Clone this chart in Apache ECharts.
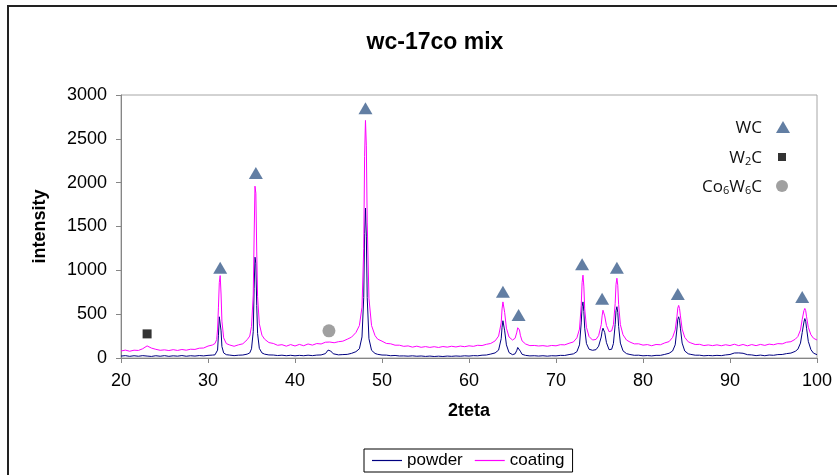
<!DOCTYPE html>
<html>
    <head>
        <meta charset="utf-8">
        <script src="https://cdn.jsdelivr.net/npm/echarts@6.0.0/dist/echarts.min.js"></script>
        <style>
            html, body { margin: 0; padding: 0; background: #fff; }
            #main { width: 837px; height: 475px; }
        </style>
    </head>
    <body>
        <div id="main"></div>
        <script>
            // [2theta, intensity]
            var powder = [
                [20,22],[20.5,27],[21,19],[21.5,26],[22,20],[22.5,27],[23,22],[23.5,18],[24,26],[24.5,20],[25,27],[25.5,19],
                [26,25],[26.5,21],[27,28],[27.5,20],[28,26],[28.5,22],[29,28],[29.5,24],[30,30],[30.5,33],
                [30.8,36],[31.0,48],[31.1,90],[31.2,260],[31.3,470],[31.4,490],[31.5,310],[31.6,130],[31.8,58],[32.1,38],
                [32.5,33],[33,27],[33.5,32],[34,34],[34.5,44],
                [34.8,58],[35.0,105],[35.2,300],[35.3,790],[35.4,1150],[35.5,1080],[35.6,600],[35.7,280],[35.9,110],[36.2,58],
                [36.5,44],[37,35],[37.5,34],[38,28],[38.5,32],[39,26],[39.5,31],[40,25],[40.5,30],[41,26],[41.5,32],[42,27],
                [42.5,33],[43,35],[43.5,50],[43.8,90],[43.9,100],[44.1,80],[44.4,48],[45,36],[45.5,39],[46,41],[46.5,53],
                [47.0,72],[47.4,105],[47.7,240],[47.9,690],[48.0,1420],[48.1,1710],[48.2,1390],[48.3,690],[48.5,220],[48.8,88],[49.2,52],
                [49.5,42],[50,34],[50.5,33],[51,26],[51.5,29],[52,23],[52.5,24],[53,21],[53.5,25],[54,20],[54.5,23],[55,18],
                [55.5,22],[56,17],[56.5,21],[57,17],[57.5,22],[58,19],[58.5,23],[59,20],[59.5,25],[60,22],[60.5,27],[61,25],
                [61.5,32],[62,34],[62.5,45],
                [63.0,58],[63.4,90],[63.7,220],[63.8,350],[63.9,425],[64.0,410],[64.1,310],[64.3,150],[64.6,62],[65.0,38],
                [65.3,48],[65.5,88],[65.6,120],[65.7,130],[65.8,112],[65.9,78],[66.1,42],[66.5,30],
                [67,24],[67.5,26],[68,22],[68.5,26],[69,21],[69.5,26],[70,24],[70.5,30],[71,29],[71.5,39],[72,47],
                [72.4,72],[72.7,150],[72.9,400],[73.0,590],[73.1,640],[73.2,530],[73.3,340],[73.5,165],[73.8,100],[74.2,88],
                [74.6,95],[74.9,135],[75.2,240],[75.3,305],[75.4,340],[75.5,330],[75.6,290],[75.8,175],[76.1,95],[76.4,100],
                [76.6,165],[76.8,380],[76.9,540],[77.0,585],[77.1,520],[77.2,360],[77.4,170],[77.7,82],[78.1,50],
                [78.5,40],[79,31],[79.5,32],[80,25],[80.5,28],[81,24],[81.5,30],[82,30],[82.5,41],[83,54],
                [83.4,80],[83.7,150],[83.9,330],[84.0,440],[84.1,470],[84.2,430],[84.3,340],[84.5,170],[84.8,80],[85.2,48],
                [85.5,41],[86,32],[86.5,32],[87,25],[87.5,29],[88,26],[88.5,30],[89,27],[89.5,35],[90,40],[90.5,57],[91,58],
                [91.5,54],[92,38],[92.5,35],[93,27],[93.5,33],[94,26],[94.5,34],[95,31],[95.5,39],[96,40],[96.5,50],[97,56],[97.5,76],
                [97.8,100],[98.1,170],[98.3,290],[98.5,410],[98.6,450],[98.7,420],[98.8,340],[99.0,190],[99.3,95],[99.6,55],[100,38]
            ];

            var coating = [
                [20,80],[20.5,90],[21,77],[21.5,89],[22,86],[22.5,106],[23,138],[23.5,113],[24,99],[24.5,88],[25,93],[25.5,85],
                [26,95],[26.5,86],[27,97],[27.5,89],[28,100],[28.5,98],[29,112],[29.5,114],[30,136],[30.5,148],
                [30.8,165],[31.0,210],[31.1,330],[31.2,580],[31.3,860],[31.4,940],[31.5,730],[31.6,420],[31.8,230],[32.1,165],
                [32.5,148],[33,134],[33.5,150],[34,162],[34.5,208],
                [34.8,250],[35.0,360],[35.2,720],[35.3,1380],[35.4,1960],[35.5,1880],[35.6,1220],[35.7,700],[35.9,390],[36.2,260],
                [36.5,215],[37,176],[37.5,166],[38,145],[38.5,152],[39,135],[39.5,153],[40,137],[40.5,155],[41,140],[41.5,160],
                [42,147],[42.5,165],[43,160],[43.5,180],[44,182],[44.5,174],[45,186],[45.5,192],[46,214],[46.5,238],
                [47.0,290],[47.4,370],[47.7,580],[47.9,1250],[48.0,2300],[48.1,2710],[48.2,2420],[48.3,1550],[48.5,680],[48.8,370],[49.2,255],
                [49.5,215],[50,192],[50.5,166],[51,162],[51.5,146],[52,146],[52.5,133],[53,138],[53.5,124],[54,135],[54.5,122],
                [55,130],[55.5,121],[56,129],[56.5,120],[57,131],[57.5,124],[58,134],[58.5,126],[59,136],[59.5,129],[60,139],
                [60.5,133],[61,145],[61.5,142],[62,156],[62.5,166],
                [63.0,195],[63.4,250],[63.7,400],[63.8,560],[63.9,640],[64.0,625],[64.1,520],[64.3,340],[64.6,240],[65.0,205],
                [65.3,225],[65.5,295],[65.6,345],[65.7,355],[65.8,320],[65.9,260],[66.1,195],[66.5,160],
                [67,141],[67.5,143],[68,137],[68.5,141],[69,134],[69.5,143],[70,139],[70.5,152],[71,150],[71.5,168],[72,183],
                [72.4,230],[72.7,330],[72.9,600],[73.0,860],[73.1,945],[73.2,820],[73.3,560],[73.5,350],[73.8,245],[74.2,205],
                [74.6,212],[74.9,255],[75.2,380],[75.3,480],[75.4,545],[75.5,540],[75.6,480],[75.8,370],[76.1,300],[76.4,310],
                [76.6,380],[76.8,620],[76.9,840],[77.0,910],[77.1,830],[77.2,610],[77.4,380],[77.7,265],[78.1,205],
                [78.5,182],[79,161],[79.5,162],[80,147],[80.5,153],[81,140],[81.5,154],[82,151],[82.5,172],[83,187],
                [83.4,235],[83.7,320],[83.9,470],[84.0,570],[84.1,600],[84.2,565],[84.3,480],[84.5,330],[84.8,235],[85.2,185],
                [85.5,172],[86,154],[86.5,156],[87,142],[87.5,149],[88,141],[88.5,150],[89,140],[89.5,151],[90,142],[90.5,157],
                [91,141],[91.5,154],[92,139],[92.5,153],[93,141],[93.5,155],[94,144],[94.5,158],[95,151],[95.5,164],[96,161],
                [96.5,180],[97,186],[97.5,214],
                [97.8,245],[98.1,320],[98.3,440],[98.5,540],[98.6,565],[98.7,540],[98.8,470],[99.0,350],[99.3,265],[99.6,225],[100,205]
            ];

            // phase markers
            var wcMarks = [[31.4,1030],[35.5,2110],[48.1,2850],[63.9,755],[65.7,490],[73.0,1070],[75.3,675],[77.0,1030],[84.0,730],[98.3,695]];
            var w2cMarks = [[23.0,275]];
            var co6w6cMarks = [[43.9,310]];

            var chart = echarts.init(document.getElementById('main'));

            var font = 'Liberation Sans, Arial, sans-serif';
            var legendFont = 'Open Sans, sans-serif';

            function phaseName(name) {
                // W2C -> W{2}C, Co6W6C -> Co{6}W{6}C with subscripts
                return name.replace(/([A-Za-z]+)/g, '{n|$1}').replace(/(\d)/g, '{s|$1}');
            }
            var phaseRich = {
                n: { fontSize: 17, lineHeight: 20, verticalAlign: 'bottom', fontFamily: legendFont, color: '#111' },
                s: { fontSize: 11, lineHeight: 8, verticalAlign: 'bottom', fontFamily: legendFont, color: '#111' }
            };
            function phaseLegend(name, right, top, w, h, pad) {
                return {
                    data: [name],
                    orient: 'vertical',
                    align: 'right',
                    right: right,
                    top: top,
                    padding: 0,
                    itemWidth: w,
                    itemHeight: h,
                    selectedMode: false,
                    formatter: phaseName,
                    textStyle: { padding: [0, pad, 0, 0], rich: phaseRich }
                };
            }

            chart.setOption({
                backgroundColor: '#fff',
                animation: false,
                title: {
                    text: 'wc-17co mix',
                    left: 430,
                    top: 26,
                    textAlign: 'center',
                    textStyle: { fontSize: 23, fontWeight: 'bold', color: '#000', fontFamily: font }
                },
                graphic: [{
                    type: 'rect',
                    shape: { x: 8, y: 6, width: 1000, height: 1000 },
                    style: { fill: 'none', stroke: '#222', lineWidth: 2 },
                    silent: true
                }],
                grid: {
                    left: 121, right: 20, top: 95, bottom: 117,
                    show: true, borderColor: '#a6a6a6', borderWidth: 1
                },
                legend: [
                    {
                        data: [
                            { name: 'powder', icon: 'rect', itemStyle: { color: '#000080' } },
                            { name: 'coating', icon: 'rect', itemStyle: { color: '#ff00ff' } }
                        ],
                        left: 364,
                        top: 449,
                        padding: [3, 8, 3, 8],
                        borderColor: '#000',
                        borderWidth: 1,
                        itemWidth: 30,
                        itemHeight: 1.2,
                        itemGap: 12,
                        selectedMode: false,
                        textStyle: { fontSize: 17, color: '#000', fontFamily: font }
                    },
                    phaseLegend('WC', 47, 120, 14, 12, 9),
                    phaseLegend('W2C', 51, 150, 8, 8, 11),
                    phaseLegend('Co6W6C', 49, 179, 12, 12, 9)
                ],
                xAxis: {
                    type: 'value',
                    min: 20, max: 100, interval: 10,
                    name: '2teta',
                    nameLocation: 'middle',
                    nameGap: 44,
                    nameTextStyle: { fontSize: 18, fontWeight: 'bold', color: '#000', fontFamily: font },
                    axisLine: { lineStyle: { color: '#868686' } },
                    axisTick: { length: 5, lineStyle: { color: '#868686' } },
                    axisLabel: { fontSize: 18, color: '#000', margin: 14, fontFamily: font },
                    splitLine: { show: false }
                },
                yAxis: {
                    type: 'value',
                    min: 0, max: 3000, interval: 500,
                    name: 'intensity',
                    nameLocation: 'middle',
                    nameGap: 72,
                    nameTextStyle: { fontSize: 18, fontWeight: 'bold', color: '#000', fontFamily: font },
                    axisLine: { show: true, lineStyle: { color: '#868686' } },
                    axisTick: { show: true, length: 5, lineStyle: { color: '#868686' } },
                    axisLabel: {
                        fontSize: 18, color: '#000', margin: 14, fontFamily: font,
                        formatter: function (v) { return String(v); }
                    },
                    splitLine: { show: false }
                },
                series: [
                    {
                        name: 'powder',
                        type: 'line',
                        data: powder,
                        symbol: 'none',
                        color: '#000080',
                        lineStyle: { width: 1, color: '#000080' }
                    },
                    {
                        name: 'coating',
                        type: 'line',
                        data: coating,
                        symbol: 'none',
                        color: '#ff00ff',
                        lineStyle: { width: 1, color: '#ff00ff' }
                    },
                    {
                        name: 'WC',
                        type: 'scatter',
                        data: wcMarks,
                        symbol: 'triangle',
                        symbolSize: [14, 12],
                        itemStyle: { color: '#3b5e8c' }
                    },
                    {
                        name: 'W2C',
                        type: 'scatter',
                        data: w2cMarks,
                        symbol: 'rect',
                        symbolSize: 9,
                        itemStyle: { color: '#000' }
                    },
                    {
                        name: 'Co6W6C',
                        type: 'scatter',
                        data: co6w6cMarks,
                        symbol: 'circle',
                        symbolSize: 13,
                        itemStyle: { color: '#888' }
                    }
                ]
            });
        </script>
    </body>
</html>
